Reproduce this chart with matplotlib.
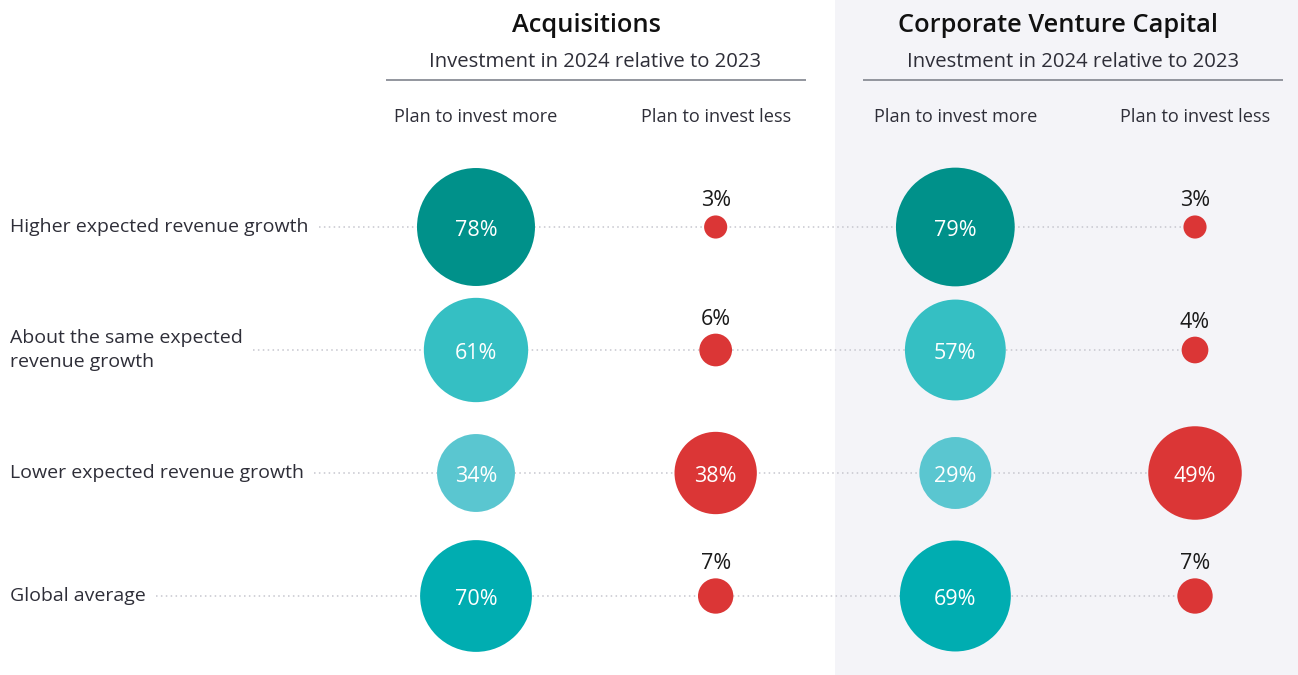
import matplotlib
matplotlib.use("Agg")
import matplotlib.pyplot as plt
from matplotlib.patches import Rectangle
import numpy as np

# ---------------- data ----------------
rows = ["Higher expected revenue growth",
        "About the same expected\nrevenue growth",
        "Lower expected revenue growth",
        "Global average"]
groups = ["Acquisitions", "Corporate Venture Capital"]
subtitle = "Investment in 2024 relative to 2023"
columns = ["Plan to invest more", "Plan to invest less"]
acq_more = [78, 61, 34, 70]
acq_less = [3, 6, 38, 7]
cvc_more = [79, 57, 29, 69]
cvc_less = [3, 4, 49, 7]

# ---------------- style ----------------
FONT = "Open Sans"
plt.rcParams["font.family"] = [FONT, "DejaVu Sans"]
more_colors = ["#00918a", "#35bfc3", "#5ac6d0", "#00adb1"]
less_color = "#db3636"
text_dark = "#2e2e38"
W, H = 1298, 675
X0, DX = 476.0, 239.67   # pixel position of first column, column step
Y0, DY = 227.0, 123.0    # pixel position of first row, row step
S_PER_PCT = 92.5         # marker area (pt^2) per percentage point

fig = plt.figure(figsize=(W / 100, H / 100), dpi=100)

# layout layer in pixel coordinates
bg = fig.add_axes([0, 0, 1, 1])
bg.set_xlim(0, W)
bg.set_ylim(H, 0)
bg.axis("off")
bg.add_patch(Rectangle((835, 0), W - 835, H, color="#f4f4f8", zorder=0, lw=0))

# data layer: x = column index, y = row index
ax = fig.add_axes([0, 0, 1, 1])
ax.patch.set_alpha(0)
ax.set_xlim(-X0 / DX, (W - X0) / DX)
ax.set_ylim((H - Y0) / DY, -Y0 / DY)
ax.axis("off")

# group headers
group_title_x = [586, 1058]
group_center_x = [595.5, 1073]
for g, name in enumerate(groups):
    bg.text(group_title_x[g], 25, name, ha="center", va="center",
            fontsize=18.3, fontweight="semibold", color="#111111")
    bg.text(group_center_x[g], 62, subtitle, ha="center", va="center",
            fontsize=14.6, color=text_dark)
    bg.plot([group_center_x[g] - 210, group_center_x[g] + 210], [80, 80],
            color="#8a8d96", lw=1.3, solid_capstyle="butt")

# column headers
for c in range(4):
    ax.text(c, (117 - Y0) / DY, columns[c % 2], ha="center", va="center",
            fontsize=13.1, color=text_dark)

# row labels
labels = []
for j, r in enumerate(rows):
    t = ax.text((10 - X0) / DX, j, r, ha="left", va="center",
                fontsize=14, color=text_dark, linespacing=1.4)
    labels.append(t)

fig.canvas.draw()
renderer = fig.canvas.get_renderer()
inv = ax.transData.inverted()
for j, t in enumerate(labels):
    bb = t.get_window_extent(renderer)
    x_start = inv.transform((bb.x1 + 10, 0))[0]
    ax.plot([x_start, 3], [j, j], color="#c6c6ce", lw=1.1,
            ls=(0, (1, 2.2)), zorder=1)

# bubbles
series = [acq_more, acq_less, cvc_more, cvc_less]
for c, vals in enumerate(series):
    vals = np.array(vals, dtype=float)
    cols = more_colors if c % 2 == 0 else [less_color] * len(vals)
    sizes = S_PER_PCT * vals
    ax.scatter([c] * len(vals), np.arange(len(vals)), s=sizes, c=cols,
               linewidths=0, zorder=3)
    for j, v in enumerate(vals):
        label = f"{int(v)}%"
        if v >= 20:
            ax.annotate(label, (c, j), xytext=(0, -2.5),
                        textcoords="offset points", ha="center",
                        va="center", fontsize=15.5, color="white", zorder=4)
        else:
            r_pt = np.sqrt(S_PER_PCT * v) / 2
            ax.annotate(label, (c, j), xytext=(0, r_pt + 6.5),
                        textcoords="offset points", ha="center",
                        va="baseline", fontsize=15.5, color="#1a1a1a",
                        zorder=4)

fig.savefig("out.png", dpi=100)
